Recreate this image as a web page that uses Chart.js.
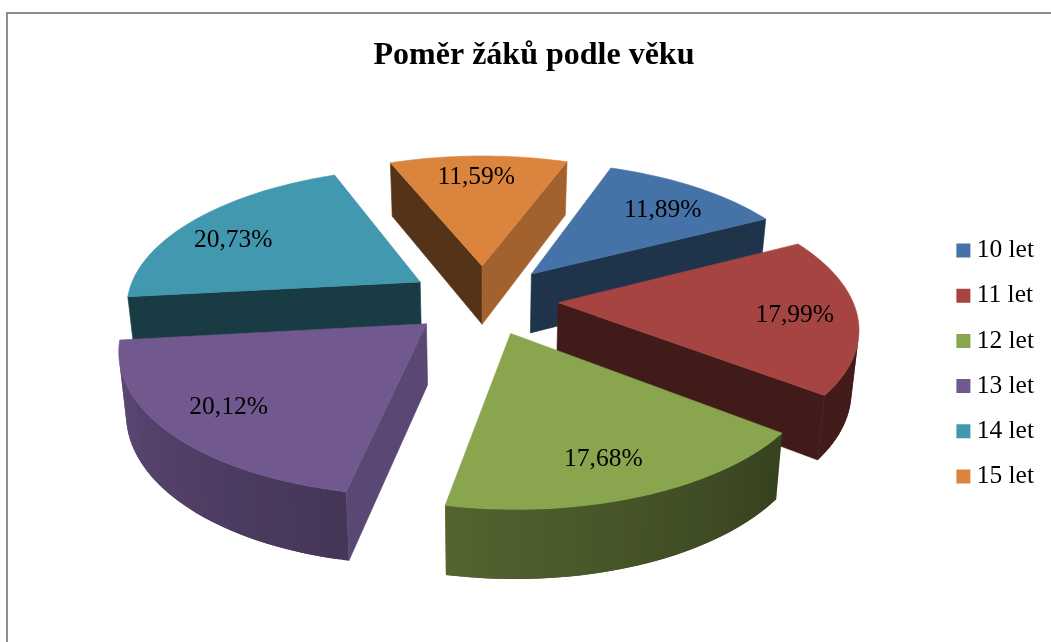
<!DOCTYPE html>
<html>
<head>
<meta charset="utf-8">
<title>Poměr žáků podle věku</title>
<script src="https://cdn.jsdelivr.net/npm/chart.js@4/dist/chart.umd.min.js"></script>
<style>
  html, body { margin: 0; background: #fff; }
  #frame { position: absolute; left: 6px; top: 12px; right: 0; bottom: 0; border-left: 2px solid #8e8e8e; border-top: 2px solid #8e8e8e; }
  #graf { position: absolute; left: 0; top: 0; }
</style>
</head>
<body>
<div id="frame"></div>
<canvas id="graf" width="1051" height="642"></canvas>
<script>
var categories = ["10 let", "11 let", "12 let", "13 let", "14 let", "15 let"];
var values = [11.89, 17.99, 17.68, 20.12, 20.73, 11.59];
var colors = ["#4572A7", "#A64442", "#89A54E", "#71588F", "#4198AF", "#DB843D"];
var chartTitle = "Poměr žáků podle věku";

// the 3D look: tilted plane with some perspective
var tilt = 0.465, persp = 0.00053, depth = 60, taper = 0.02, lift = 64, drift = -0.4;
var serif = "'Liberation Serif', 'Times New Roman', serif";
// small shifts of the value labels, they do not sit on one radius in the original
var labelNudge = [[0, 5], [4, 3], [-6, 4], [-3, 0], [-9, 8], [-3, 0]];

function shade(hex, f) {
  var n = parseInt(hex.slice(1), 16);
  return "rgb(" + Math.round((n >> 16) * f) + "," + Math.round(((n >> 8) & 255) * f) + "," + Math.round((n & 255) * f) + ")";
}

// angle clockwise from the top of the pie, in degrees
function clockDeg(a) {
  return ((a * 180 / Math.PI + 90) % 360 + 360) % 360;
}

function rimLight(a) {
  var d = clockDeg(a);
  return 0.4 + Math.max(0, d - 128) / 136 * 0.45;
}

function sideLight(normal) {
  return Math.max(0.39, 0.745 - (normal - 110) * 0.00686);
}

function polygon(ctx, pts, color, noStroke) {
  ctx.beginPath();
  pts.forEach(function (p, i) { i ? ctx.lineTo(p[0], p[1]) : ctx.moveTo(p[0], p[1]); });
  ctx.closePath();
  ctx.fillStyle = color;
  ctx.fill();
  if (!noStroke) {
    ctx.strokeStyle = color;
    ctx.lineWidth = 0.6;
    ctx.stroke();
  }
}

function area(pts) {
  var s = 0;
  pts.forEach(function (p, i) {
    var q = pts[(i + 1) % pts.length];
    s += p[0] * q[1] - q[0] * p[1];
  });
  return s;
}

var pie3d = {
  id: "pie3d",
  beforeDatasetsDraw: function (chart) {
    var ctx = chart.ctx;
    var arcs = chart.getDatasetMeta(0).data;
    var order = arcs.map(function (a, i) { return i; });
    order.sort(function (i, j) {
      return Math.sin((arcs[i].startAngle + arcs[i].endAngle) / 2) - Math.sin((arcs[j].startAngle + arcs[j].endAngle) / 2);
    });
    var labels = [];

    order.forEach(function (i) {
      var arc = arcs[i];
      var mid = (arc.startAngle + arc.endAngle) / 2;
      var off = arc.options.offset / 4;
      var project = function (ang, r, z) {
        var X = Math.cos(ang) * r + Math.cos(mid) * off;
        var Y = Math.sin(ang) * r + Math.sin(mid) * off;
        var s = 1 / (1 - persp * Y);
        return [arc.x + drift + X * s * (1 - taper * z), arc.y - lift + tilt * Y * s + depth * Math.pow(s, 0.7) * z];
      };

      // outline of the top face: apex, then along the rim
      var steps = Math.ceil((arc.endAngle - arc.startAngle) / 0.03);
      var rim = [];
      for (var k = 0; k <= steps; k++) {
        rim.push(arc.startAngle + (arc.endAngle - arc.startAngle) * k / steps);
      }
      var top = [project(0, 0, 0)].concat(rim.map(function (a) { return project(a, arc.outerRadius, 0); }));
      var color = colors[i];

      // radial side faces first, only those turned to the viewer
      var side = function (ang, normal) {
        var quad = [project(0, 0, 0), project(ang, arc.outerRadius, 0), project(ang, arc.outerRadius, 1), project(0, 0, 1)];
        return { quad: quad, normal: normal };
      };
      var startDeg = clockDeg(arc.startAngle), endDeg = clockDeg(arc.endAngle);
      var s1 = side(arc.startAngle, (startDeg + 270) % 360);
      var s2 = side(arc.endAngle, (endDeg + 90) % 360);
      if (area(s1.quad) < 0) polygon(ctx, s1.quad, shade(color, sideLight(s1.normal)));
      if (area(s2.quad) > 0) polygon(ctx, s2.quad, shade(color, sideLight(s2.normal)));

      // outer wall, strips overlap so no seams show
      for (var m = 0; m < steps; m++) {
        var next = rim[Math.min(m + 2, steps)];
        var strip = [project(rim[m], arc.outerRadius, 0), project(next, arc.outerRadius, 0),
                     project(next, arc.outerRadius, 1), project(rim[m], arc.outerRadius, 1)];
        if (area(strip) < 0) polygon(ctx, strip, shade(color, rimLight(rim[m])), true);
      }

      polygon(ctx, top, color);
      labels.push({ i: i, at: project(mid, arc.outerRadius * 0.78, 0) });
    });

    ctx.font = "25.5px " + serif;
    ctx.fillStyle = "#000";
    ctx.textAlign = "center";
    ctx.textBaseline = "middle";
    labels.forEach(function (l) {
      var n = labelNudge[l.i];
      ctx.fillText(values[l.i].toFixed(2).replace(".", ",") + "%", l.at[0] + n[0], l.at[1] + n[1]);
    });
    return false;
  }
};

var chart = new Chart(document.getElementById("graf"), {
  type: "pie",
  data: {
    labels: categories,
    datasets: [{
      data: values,
      backgroundColor: colors,
      borderWidth: 0,
      offset: 300,
      hoverOffset: 0,
      radius: 294
    }]
  },
  plugins: [pie3d],
  options: {
    responsive: false,
    animation: false,
    rotation: 20,
    layout: { padding: { left: 24, right: 7, top: 0, bottom: 0 } },
    plugins: {
      title: {
        display: true,
        text: chartTitle,
        color: "#000",
        font: { family: serif, size: 32, weight: "bold" },
        padding: { top: 37, bottom: 9.6 }
      },
      legend: {
        position: "right",
        fullSize: false,
        labels: {
          color: "#000",
          font: { family: serif, size: 25.5 },
          usePointStyle: true,
          pointStyle: "rect",
          boxWidth: 1,
          boxHeight: 14,
          padding: 19.7
        }
      },
      tooltip: { enabled: false }
    }
  }
});
</script>
</body>
</html>
